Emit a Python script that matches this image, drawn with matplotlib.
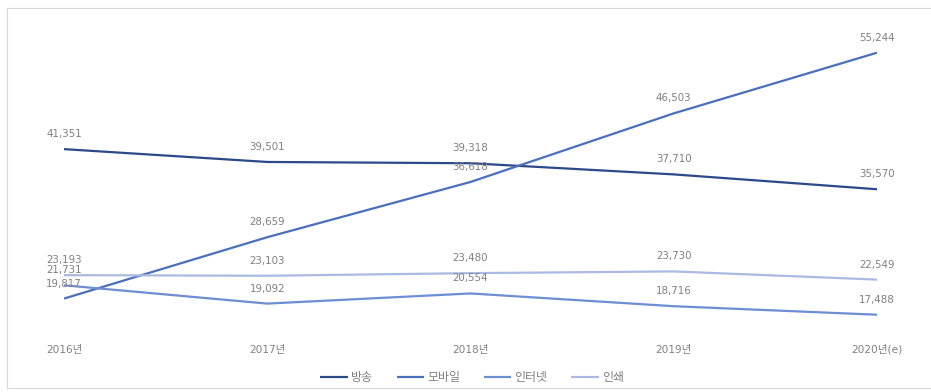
import matplotlib
matplotlib.use("Agg")
import matplotlib.pyplot as plt
from matplotlib.patches import Rectangle

plt.rcParams['font.family'] = ['DejaVu Sans', 'Noto Sans CJK KR']

years = ['2016년', '2017년', '2018년', '2019년', '2020년(e)']
series_names = ['방송', '모바일', '인터넷', '인쇄']
broadcast = [41351, 39501, 39318, 37710, 35570]
mobile = [19817, 28659, 36618, 46503, 55244]
internet = [21731, 19092, 20554, 18716, 17488]
printed = [23193, 23103, 23480, 23730, 22549]

colors = ['#2B4A8A', '#4A6FBE', '#6E8ED4', '#AABAE2']
text_gray = '#808080'
fs = 7.4

W, H = 931, 392
fig = plt.figure(figsize=(W / 100, H / 100), dpi=100)

# plot area in pixel terms
left_px, right_px = 64, 877
top_px, bottom_px = 19.7, 332
ax = fig.add_axes([left_px / W, 1 - bottom_px / H,
                   (right_px - left_px) / W, (bottom_px - top_px) / H])

x = list(range(len(years)))
for vals, name, c in zip([broadcast, mobile, internet, printed], series_names, colors):
    ax.plot(x, vals, color=c, lw=1.6, label=name, solid_capstyle='butt')
    for xi, v in zip(x, vals):
        ax.annotate(f'{v:,}', (xi, v), xytext=(0, 15), textcoords='offset pixels',
                    ha='center', va='center', fontsize=fs, color=text_gray)

ax.set_xlim(0, 4)
ax.set_ylim(15000, 60000)
ax.set_yticks([])
ax.set_xticks(x)
ax.set_xticklabels(years, fontsize=fs + 0.2, color=text_gray)
ax.tick_params(axis='x', length=0, pad=9)
for s in ax.spines.values():
    s.set_visible(False)
ax.patch.set_alpha(0)

fig.legend(loc='center', bbox_to_anchor=(472 / W, 1 - 378 / H), ncol=4, frameon=False,
           fontsize=8.6, handlelength=2.3, handletextpad=0.25, columnspacing=2.0,
           labelcolor=text_gray)

# outer frame
fig.patches.append(Rectangle((7 / W, 1 - 388 / H), 1.0, (388 - 7.5) / H,
                             transform=fig.transFigure, fill=False,
                             edgecolor='#D9D9D9', lw=0.8))

fig.savefig('out.png', dpi=100)
